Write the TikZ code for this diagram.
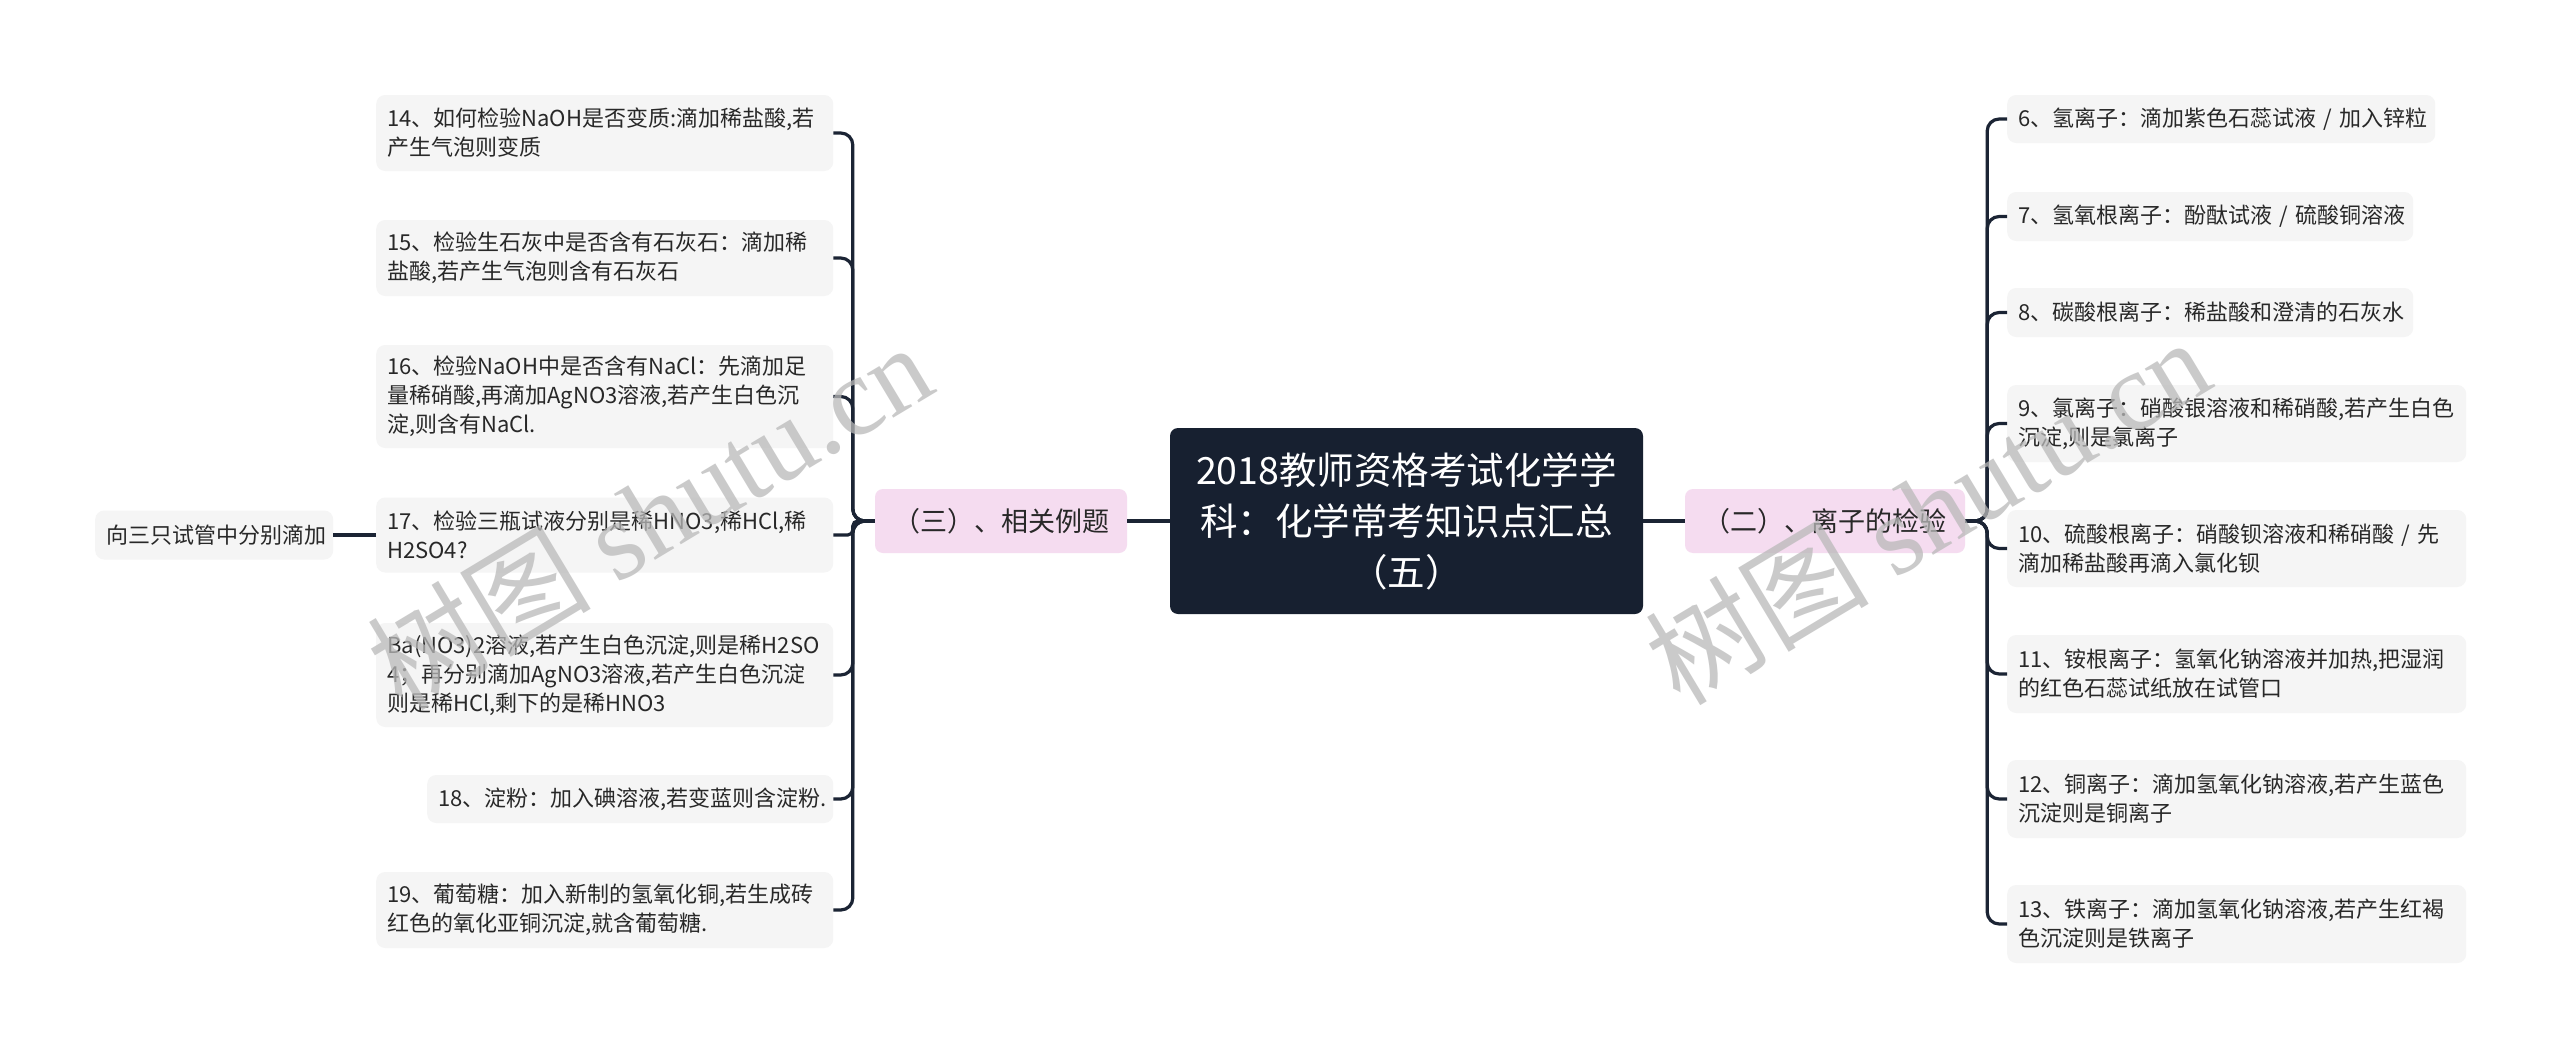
\documentclass[tikz,border=0pt]{standalone}
\usepackage{fontspec}
\setmainfont{Noto Sans CJK SC}
\newfontfamily\wmserif{Liberation Serif}
\definecolor{linec}{RGB}{27,36,52}
\definecolor{leaffill}{RGB}{245,245,245}
\definecolor{pinkfill}{RGB}{245,220,240}
\definecolor{rootfill}{RGB}{23,32,48}
\definecolor{wmcol}{RGB}{185,185,185}
\definecolor{txt}{RGB}{40,40,40}
\begin{document}
\begin{tikzpicture}[x=1pt,y=-1pt,
  conn/.style={draw=linec,line width=3.2pt,rounded corners=12pt},
  leaf/.style={fill=leaffill,rounded corners=9pt,anchor=west,align=left,
    inner xsep=11pt,inner ysep=0pt,text=txt,font=\fontsize{22}{29}\selectfont},
  pinkbox/.style={fill=pinkfill,rounded corners=8pt,anchor=center,align=center,
    inner sep=0pt,minimum width=#1,minimum height=64pt,text=txt,
    font=\fontsize{27}{34}\selectfont},
  rootbox/.style={fill=rootfill,rounded corners=8pt,align=center,inner sep=0pt,
    minimum width=473pt,minimum height=186pt,text=white,
    font=\fontsize{37.5}{51}\selectfont},
  wm/.style={rotate=31,text=wmcol,opacity=.75,font=\fontsize{112}{112}\selectfont}
]
\fill[white] (0,0) rectangle (2560,1057);
\useasboundingbox (0,0) rectangle (2560,1057);

% root and main branches
\node[rootbox] (root) at (1406.5,521) {2018教师资格考试化学学\\科：化学常考知识点汇总\\（五）};
\node[pinkbox=280pt] (er) at (1825,521) {（二）、离子的检验};
\node[pinkbox=252pt] (san) at (1001,521) {（三）、相关例题};

% left leaves
\node[leaf,text width=435pt,minimum height=76pt] (n14) at (376,133) {14、如何检验NaOH是否变质:滴加稀盐酸,若\\产生气泡则变质};
\node[leaf,text width=435pt,minimum height=76pt] (n15) at (376,258) {15、检验生石灰中是否含有石灰石：滴加稀\\盐酸,若产生气泡则含有石灰石};
\node[leaf,text width=435pt,minimum height=103pt] (n16) at (376,396.5) {16、检验NaOH中是否含有NaCl：先滴加足\\量稀硝酸,再滴加AgNO3溶液,若产生白色沉\\淀,则含有NaCl.};
\node[leaf,text width=435pt,minimum height=75pt] (n17) at (376,535) {17、检验三瓶试液分别是稀HNO3,稀HCl,稀\\H2SO4?};
\node[leaf,text width=435pt,minimum height=104pt] (nba) at (376,675) {Ba(NO3)2溶液,若产生白色沉淀,则是稀H2SO\\4；再分别滴加AgNO3溶液,若产生白色沉淀\\则是稀HCl,剩下的是稀HNO3};
\node[leaf,text width=384pt,minimum height=48pt] (n18) at (427,799) {18、淀粉：加入碘溶液,若变蓝则含淀粉.};
\node[leaf,text width=435pt,minimum height=76pt] (n19) at (376,910) {19、葡萄糖：加入新制的氢氧化铜,若生成砖\\红色的氧化亚铜沉淀,就含葡萄糖.};
\node[leaf,text width=216pt,minimum height=49pt] (xiang) at (95,535) {向三只试管中分别滴加};

% right leaves
\node[leaf,text width=406pt,minimum height=48pt] (n6) at (2007,119) {6、氢离子：滴加紫色石蕊试液~/~加入锌粒};
\node[leaf,text width=384pt,minimum height=49pt] (n7) at (2007,216.5) {7、氢氧根离子：酚酞试液~/~硫酸铜溶液};
\node[leaf,text width=384pt,minimum height=49pt] (n8) at (2007,312.5) {8、碳酸根离子：稀盐酸和澄清的石灰水};
\node[leaf,text width=437pt,minimum height=77pt] (n9) at (2007,423.5) {9、氯离子：硝酸银溶液和稀硝酸,若产生白色\\沉淀,则是氯离子};
\node[leaf,text width=437pt,minimum height=77pt] (n10) at (2007,548.5) {10、硫酸根离子：硝酸钡溶液和稀硝酸~/~先\\滴加稀盐酸再滴入氯化钡};
\node[leaf,text width=437pt,minimum height=78pt] (n11) at (2007,674) {11、铵根离子：氢氧化钠溶液并加热,把湿润\\的红色石蕊试纸放在试管口};
\node[leaf,text width=437pt,minimum height=78pt] (n12) at (2007,799) {12、铜离子：滴加氢氧化钠溶液,若产生蓝色\\沉淀则是铜离子};
\node[leaf,text width=437pt,minimum height=78pt] (n13) at (2007,924) {13、铁离子：滴加氢氧化钠溶液,若产生红褐\\色沉淀则是铁离子};

% connectors root
\draw[conn] (root.east) -- (er.west);
\draw[conn] (root.west) -- (san.west -| san.east);

% left tree
\foreach \c in {n14,n15,n16,nba,n18,n19}
  \draw[conn] (san.west) -- ++(-22,0) |- (\c.east);
\draw[conn,rounded corners=5pt] (san.west) -- ++(-22,0) |- (n17.east);
\draw[conn] (n17.west) -- (xiang.east);

% right tree
\foreach \c in {n6,n7,n8,n9,n10,n11,n12,n13}
  \draw[conn] (er.east) -- ++(22,0) |- (\c.west);

% watermarks
\node[wm] (wm1) at (649,515) {树图 {\wmserif shutu.cn}};
\node[wm] (wm2) at (1927,510) {树图 {\wmserif shutu.cn}};
\end{tikzpicture}
\end{document}
